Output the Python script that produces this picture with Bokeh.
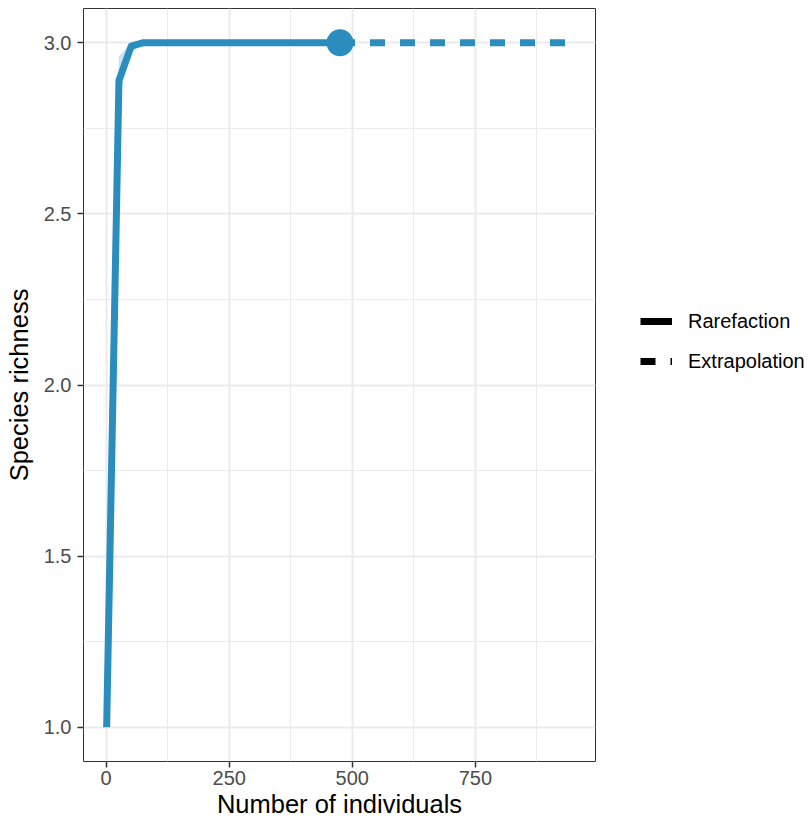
from bokeh.plotting import figure
from bokeh.layouts import row
from bokeh.models import Range1d, FixedTicker, Legend, LegendItem
from bokeh.embed import file_html
from bokeh.resources import INLINE

# ---- data ----
raref_x = [1, 26, 51, 76, 101, 126, 150, 175, 200, 225, 250, 275, 300, 325, 350, 375, 400, 425, 450, 475]
raref_y = [1.0, 2.89, 2.99, 3.0, 3.0, 3.0, 3.0, 3.0, 3.0, 3.0, 3.0, 3.0, 3.0, 3.0, 3.0, 3.0, 3.0, 3.0, 3.0, 3.0]
raref_lo = [1.0, 2.84, 2.97, 3.0, 3.0, 3.0, 3.0, 3.0, 3.0, 3.0, 3.0, 3.0, 3.0, 3.0, 3.0, 3.0, 3.0, 3.0, 3.0, 3.0]
raref_hi = [1.0, 2.96, 3.0, 3.0, 3.0, 3.0, 3.0, 3.0, 3.0, 3.0, 3.0, 3.0, 3.0, 3.0, 3.0, 3.0, 3.0, 3.0, 3.0, 3.0]
extrap_x = [475, 500, 525, 550, 575, 600, 625, 650, 675, 700, 725, 750, 775, 800, 825, 850, 875, 900, 925, 950]
extrap_y = [3.0, 3.0, 3.0, 3.0, 3.0, 3.0, 3.0, 3.0, 3.0, 3.0, 3.0, 3.0, 3.0, 3.0, 3.0, 3.0, 3.0, 3.0, 3.0, 3.0]
obs_x = [475]
obs_y = [3.0]
x_ticks = [0, 250, 500, 750]
x_minor = [125, 375, 625, 875]
y_ticks = [1.0, 1.5, 2.0, 2.5, 3.0]
y_minor = [1.25, 1.75, 2.25, 2.75]
y_tick_labels = ["1.0", "1.5", "2.0", "2.5", "3.0"]
legend_labels = ["Rarefaction", "Extrapolation"]

BLUE = "#2B8CBE"
FONT = "Liberation Sans"

p = figure(width=596, height=825, x_range=Range1d(-46, 994), y_range=Range1d(0.9, 3.1),
           output_backend="svg", toolbar_location=None,
           min_border_left=83, min_border_right=1, min_border_top=8, min_border_bottom=64)

p.outline_line_color = "#333333"
p.outline_line_width = 1
p.background_fill_color = "white"
p.border_fill_color = "white"

# axes
p.xaxis.ticker = FixedTicker(ticks=x_ticks, minor_ticks=x_minor)
p.yaxis.ticker = FixedTicker(ticks=y_ticks, minor_ticks=y_minor)
p.yaxis.major_label_overrides = {t: l for t, l in zip(y_ticks, y_tick_labels)}
for ax in (p.xaxis, p.yaxis):
    ax.axis_line_color = None
    ax.major_tick_line_color = "#333333"
    ax.major_tick_line_width = 1.5
    ax.major_tick_in = 0
    ax.major_tick_out = 6
    ax.minor_tick_line_color = None
    ax.major_label_text_font = FONT
    ax.major_label_text_font_size = "20px"
    ax.major_label_text_color = "#4D4D4D"
    ax.axis_label_text_font = FONT
    ax.axis_label_text_font_size = "25.5px"
    ax.axis_label_text_font_style = "normal"
    ax.axis_label_text_color = "black"
p.xaxis.axis_label = "Number of individuals"
p.yaxis.axis_label = "Species richness"
p.xaxis.major_label_standoff = 3
p.xaxis.axis_label_standoff = 2
p.yaxis.major_label_standoff = 6
p.yaxis.axis_label_standoff = 8

# grid
for g in (p.xgrid, p.ygrid):
    g.grid_line_color = "#EBEBEB"
    g.grid_line_width = 2
    g.minor_grid_line_color = "#EBEBEB"
    g.minor_grid_line_width = 1

# ribbon
p.varea(x=raref_x, y1=raref_lo, y2=raref_hi, fill_color=BLUE, fill_alpha=0.25)
# lines
p.line(raref_x, raref_y, line_width=7, line_color=BLUE, line_join="round")
p.line(extrap_x, extrap_y, line_width=7, line_color=BLUE, line_dash="15 15", line_cap="butt")
p.scatter(obs_x, obs_y, size=27, fill_color=BLUE, line_color=None)

# ---- legend panel (right) ----
q = figure(width=213, height=825, x_range=Range1d(0, 1), y_range=Range1d(0, 1),
           output_backend="svg", toolbar_location=None,
           x_axis_type=None, y_axis_type=None,
           min_border_left=0, min_border_right=0, min_border_top=0, min_border_bottom=0)
q.outline_line_color = None
q.xgrid.visible = False
q.ygrid.visible = False
q.background_fill_color = "white"
q.border_fill_color = "white"

# single-point lines draw nothing themselves; they only provide the black legend keys
l1 = q.line(x=[0.5], y=[0.5], line_width=7, line_color="black")
l2 = q.line(x=[0.5], y=[0.5], line_width=7, line_color="black", line_dash="15 15")
legend = Legend(items=[LegendItem(label=legend_labels[0], renderers=[l1]),
                       LegendItem(label=legend_labels[1], renderers=[l2])],
                location=(44, 388), glyph_width=32, glyph_height=24, label_height=24,
                spacing=16, label_standoff=16, padding=0, margin=0,
                border_line_color=None, background_fill_alpha=0,
                label_text_font=FONT, label_text_font_size="20px", label_text_color="black")
q.add_layout(legend, "center")

layout = row(p, q, spacing=0)
open("out.html", "w").write(file_html(layout, INLINE))
